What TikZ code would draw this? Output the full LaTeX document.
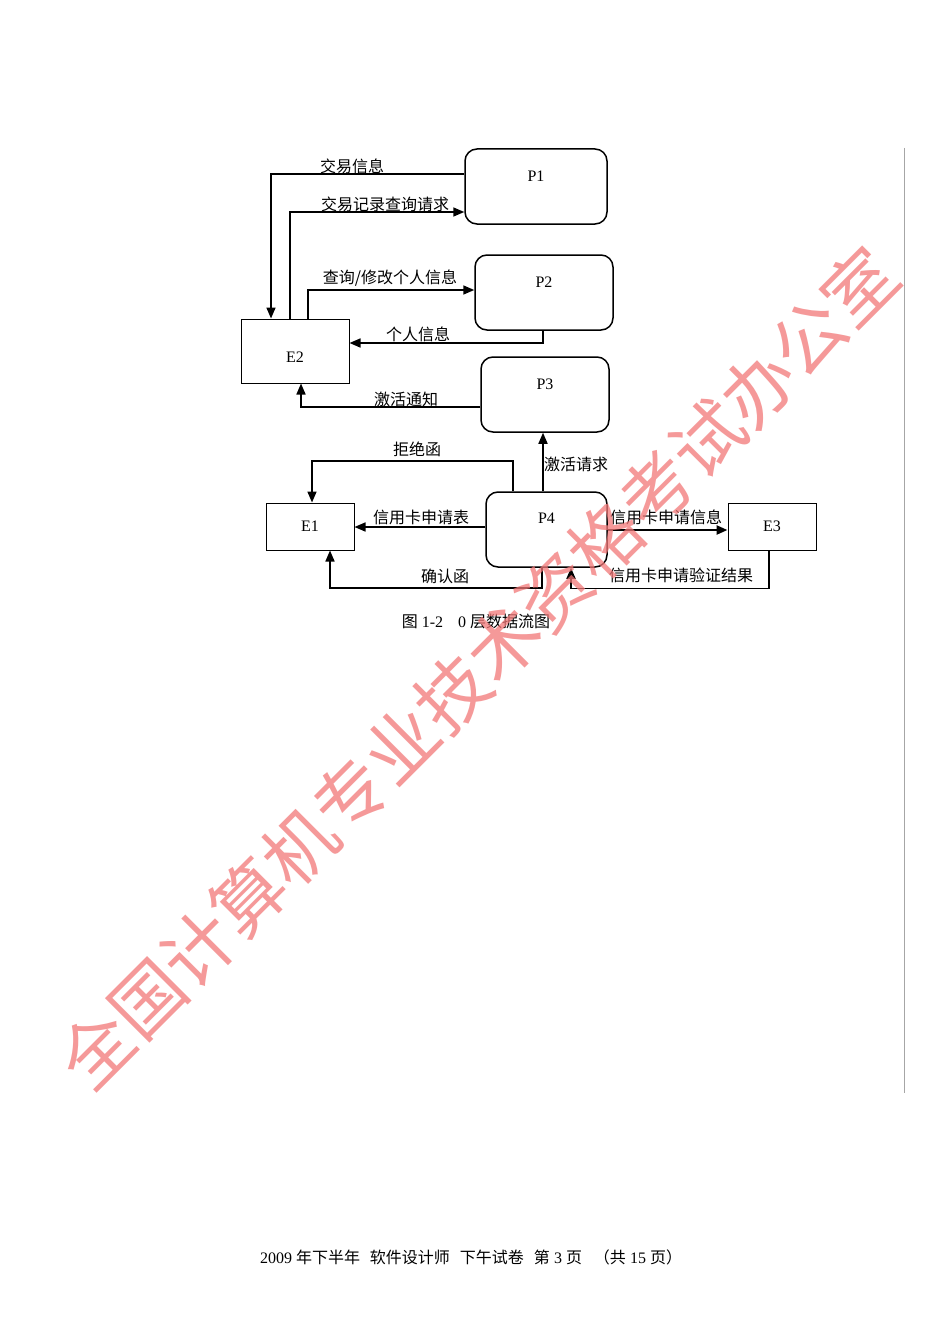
\documentclass[tikz,border=0pt]{standalone}
\usepackage{fontspec}
\setmainfont{Liberation Serif}
\newfontfamily\cjk{Noto Sans CJK SC}
\usetikzlibrary{arrows.meta,calc}
\definecolor{wmred}{RGB}{242,120,120}
\begin{document}
\begin{tikzpicture}[x=1pt,y=-1pt,
  pbox/.style={draw,line width=1.5pt,rounded corners=12pt,minimum width=#1,minimum height=75pt,inner sep=0pt},
  ebox/.style={draw,line width=1pt,minimum height=#1,inner sep=0pt},
  flow/.style={line width=1.6pt,-{Triangle[length=11pt,width=9pt]}},
  lbl/.style={font=\cjk\fontsize{16}{16}\selectfont,inner sep=0pt},
  nm/.style={font=\fontsize{16}{16}\selectfont}]
\fill[white] (0,0) rectangle (950,1343);
\useasboundingbox (0,0) rectangle (950,1343);
% margin line
\draw[gray!70,line width=1pt] (904,148) -- (904,1093);
% processes
\node[pbox=142pt,label={[nm,anchor=center,yshift=-28pt]north:P1}] (P1) at (536,186.5) {};
\node[pbox=138pt,label={[nm,anchor=center,yshift=-28pt]north:P2}] (P2) at (544,292.5) {};
\node[pbox=128pt,label={[nm,anchor=center,yshift=-28pt]north:P3}] (P3) at (545,394.5) {};
\node[pbox=121pt,label={[nm,anchor=center,yshift=-27pt]north:P4}] (P4) at (546.5,529.5) {};
% entities
\node[ebox=64pt,minimum width=108pt,label={[nm,anchor=center,yshift=-6pt]center:E2}] (E2) at (295,351) {};
\node[ebox=47pt,minimum width=88pt,nm] (E1) at (310,526.5) {E1};
\node[ebox=47pt,minimum width=88pt,nm] (E3) at (772,526.5) {E3};
% flows
\draw[flow] ([yshift=12.5pt]P1.west) -| ([xshift=-24pt]E2.north);
\draw[flow] ([xshift=-5pt]E2.north) |- ([yshift=-25.5pt]P1.west);
\draw[flow] ([xshift=13pt]E2.north) |- ([yshift=2.5pt]P2.west);
\draw[flow] ([xshift=-1pt]P2.south) |- ([yshift=8pt]E2.east);
\draw[flow] ([yshift=-12.5pt]P3.west) -| ([xshift=6pt]E2.south);
\draw[flow] ([xshift=-3.5pt]P4.north) -- ([xshift=-3.5pt]P4.north |- P3.south);
\draw[flow] ([xshift=-33.5pt]P4.north) -- ++(0,-30) -| ([xshift=2pt]E1.north);
\draw[flow] ([yshift=2.5pt]P4.west) -- ([yshift=2.5pt]P4.west -| E1.east);
\draw[flow] ([xshift=-4.5pt]P4.south) -- ++(0,20) -| ([xshift=20pt]E1.south);
\draw[flow,line width=2.4pt] ([yshift=-0.5pt]P4.east) -- ([yshift=-0.5pt]P4.east -| E3.west);
\draw[flow] ([xshift=-3pt]E3.south) -- ++(0,38) -| ([xshift=24.5pt]P4.south);
% labels
\node[lbl] (l1) at (352,166) {交易信息};
\node[lbl] (l2) at (385,204) {交易记录查询请求};
\node[lbl] (l3) at (390,278) {查询/修改个人信息};
\node[lbl] (l4) at (418,334) {个人信息};
\node[lbl] (l5) at (406,399) {激活通知};
\node[lbl] (l6) at (576,464) {激活请求};
\node[lbl] (l7) at (417,449) {拒绝函};
\node[lbl] (l8) at (421,517) {信用卡申请表};
\node[lbl] (l9) at (445,576) {确认函};
\node[lbl] (l10) at (666,517) {信用卡申请信息};
\node[lbl] (l11) at (681,575) {信用卡申请验证结果};
% caption
\node[inner sep=0pt,font=\fontsize{16}{16}\selectfont] (cap) at (476,621) {{\cjk 图} 1-2\hspace{15pt}0 {\cjk 层数据流图}};
\node[inner sep=0pt,font=\fontsize{16}{16}\selectfont] (foot) at (471,1257) {2009 {\cjk 年下半年}\hspace{10pt}{\cjk 软件设计师}\hspace{10pt}{\cjk 下午试卷}\hspace{10pt}{\cjk 第} 3 {\cjk 页}\hspace{12pt}{\cjk （共} 15 {\cjk 页）}};
% watermark
\node[rotate=45,text=wmred,opacity=0.75,inner sep=0pt,font=\cjk\fontsize{72}{72}\selectfont] (wm) at (478,668) {全国计算机专业技术资格考试办公室};
\end{tikzpicture}
\end{document}
